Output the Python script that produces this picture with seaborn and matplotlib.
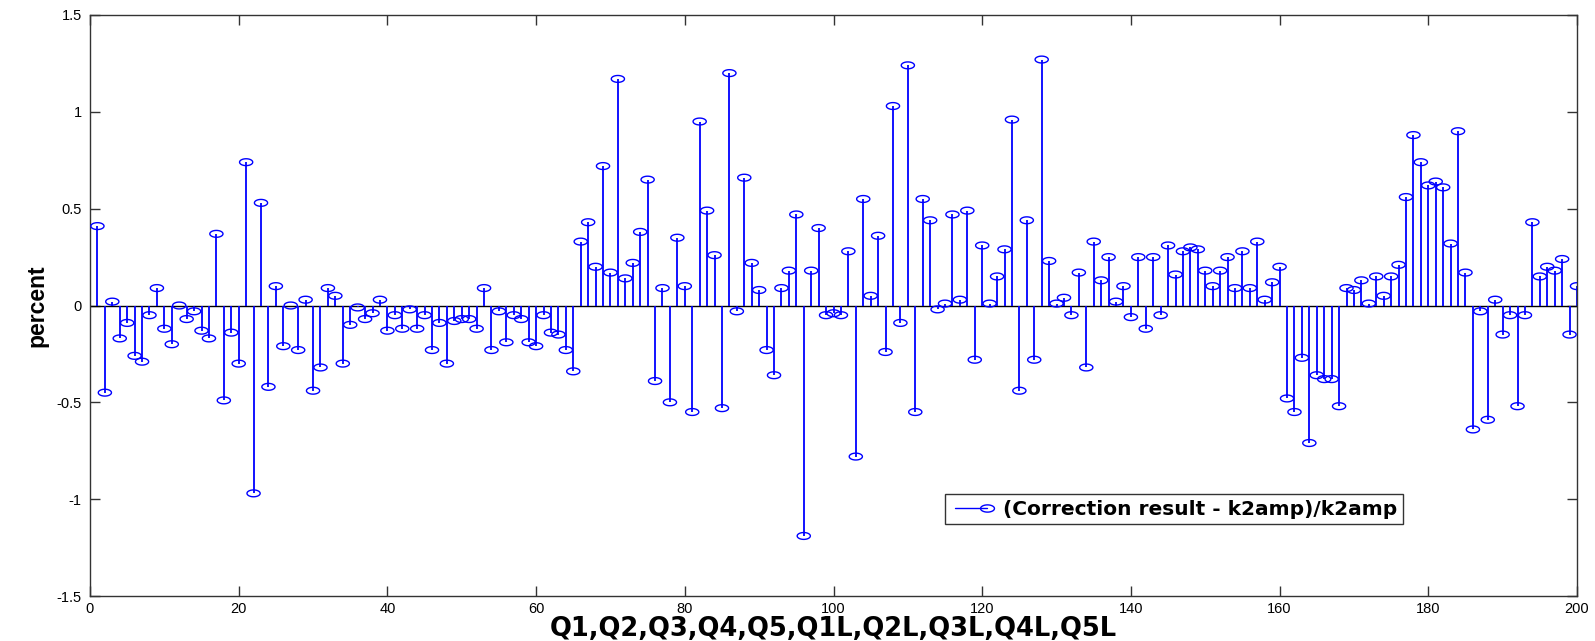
import numpy as np
import pandas as pd
import seaborn as sns
import matplotlib
matplotlib.use("Agg")
import matplotlib.pyplot as plt
from matplotlib.path import Path
from matplotlib.lines import Line2D
from matplotlib.legend_handler import HandlerBase

# ---------------- data ----------------
values_1_50 = [0.41, -0.45, 0.02, -0.17, -0.09, -0.26, -0.29, -0.05, 0.09, -0.12,
               -0.20, 0.00, -0.07, -0.03, -0.13, -0.17, 0.37, -0.49, -0.14, -0.30,
               0.74, -0.97, 0.53, -0.42, 0.10, -0.21, 0.00, -0.23, 0.03, -0.44,
               -0.32, 0.09, 0.05, -0.30, -0.10, -0.01, -0.07, -0.04, 0.03, -0.13,
               -0.05, -0.12, -0.02, -0.12, -0.05, -0.23, -0.09, -0.30, -0.08, -0.07]
values_51_100 = [-0.07, -0.12, 0.09, -0.23, -0.03, -0.19, -0.05, -0.07, -0.19, -0.21,
                 -0.05, -0.14, -0.15, -0.23, -0.34, 0.33, 0.43, 0.20, 0.72, 0.17,
                 1.17, 0.14, 0.22, 0.38, 0.65, -0.39, 0.09, -0.50, 0.35, 0.10,
                 -0.55, 0.95, 0.49, 0.26, -0.53, 1.20, -0.03, 0.66, 0.22, 0.08,
                 -0.23, -0.36, 0.09, 0.18, 0.47, -1.19, 0.18, 0.40, -0.05, -0.04]
values_101_150 = [-0.05, 0.28, -0.78, 0.55, 0.05, 0.36, -0.24, 1.03, -0.09, 1.24,
                  -0.55, 0.55, 0.44, -0.02, 0.01, 0.47, 0.03, 0.49, -0.28, 0.31,
                  0.01, 0.15, 0.29, 0.96, -0.44, 0.44, -0.28, 1.27, 0.23, 0.01,
                  0.04, -0.05, 0.17, -0.32, 0.33, 0.13, 0.25, 0.02, 0.10, -0.06,
                  0.25, -0.12, 0.25, -0.05, 0.31, 0.16, 0.28, 0.30, 0.29, 0.18]
values_151_200 = [0.10, 0.18, 0.25, 0.09, 0.28, 0.09, 0.33, 0.03, 0.12, 0.20,
                  -0.48, -0.55, -0.27, -0.71, -0.36, -0.38, -0.38, -0.52, 0.09, 0.08,
                  0.13, 0.01, 0.15, 0.05, 0.15, 0.21, 0.56, 0.88, 0.74, 0.62,
                  0.64, 0.61, 0.32, 0.90, 0.17, -0.64, -0.03, -0.59, 0.03, -0.15,
                  -0.05, -0.52, -0.05, 0.43, 0.15, 0.20, 0.18, 0.24, -0.15, 0.10]
values = values_1_50 + values_51_100 + values_101_150 + values_151_200
index = list(range(1, len(values) + 1))

x_ticks = [0, 20, 40, 60, 80, 100, 120, 140, 160, 180, 200]
y_ticks = [-1.5, -1, -0.5, 0, 0.5, 1, 1.5]
y_tick_labels = ["-1.5", "-1", "-0.5", "0", "0.5", "1", "1.5"]
x_label = "Q1,Q2,Q3,Q4,Q5,Q1L,Q2L,Q3L,Q4L,Q5L"
y_label = "percent"
legend_label = "(Correction result - k2amp)/k2amp"

df = pd.DataFrame({"index": index, "value": values})

# ---------------- style ----------------
sns.set_style("white")
plt.rcParams["font.family"] = ["Liberation Sans", "DejaVu Sans"]
plt.rcParams["text.color"] = "black"
plt.rcParams["axes.labelcolor"] = "black"
plt.rcParams["xtick.color"] = "#333333"
plt.rcParams["ytick.color"] = "#333333"

BLUE = "#0000ff"
theta = np.linspace(0, 2 * np.pi, 64)
ellipse = Path(np.column_stack([np.cos(theta), 0.52 * np.sin(theta)]), closed=True)

fig = plt.figure(figsize=(15.95, 6.41), dpi=100)
ax = fig.add_axes([90 / 1595, 1 - 596 / 641, (1577 - 90) / 1595, (596 - 15) / 641])

# baseline
ax.axhline(0, color="black", lw=1.0, zorder=1)
# stems
ax.vlines(df["index"], 0, df["value"], color=BLUE, lw=1.3, zorder=2)
# markers
sns.scatterplot(data=df, x="index", y="value", marker=ellipse, s=90,
                facecolor="none", edgecolor=BLUE, linewidth=1.0, ax=ax, zorder=3,
                legend=False)

ax.set_xlim(0, 200)
ax.set_ylim(-1.5, 1.5)
ax.set_xticks(x_ticks)
ax.set_xticklabels([str(t) for t in x_ticks])
ax.set_yticks(y_ticks)
ax.set_yticklabels(y_tick_labels)
ax.tick_params(direction="in", length=7, width=1.0, colors="#333333",
               labelcolor="black", labelsize=10.5, top=True, right=True,
               bottom=True, left=True)
ax.tick_params(axis="x", pad=4)
ax.tick_params(axis="y", pad=6)
for s in ax.spines.values():
    s.set_color("#333333")
    s.set_linewidth(1.0)

ax.set_xlabel(x_label, fontsize=18.5, fontweight="bold", color="black",
              family=["DejaVu Sans"], labelpad=0)
ax.set_ylabel(y_label, fontsize=16.5, fontweight="bold", color="black",
              labelpad=6)


class StemHandler(HandlerBase):
    def create_artists(self, legend, orig_handle, xdescent, ydescent, width,
                       height, fontsize, trans):
        y = height / 2 - ydescent
        x0 = -xdescent + 3
        x1 = -xdescent + width
        line = Line2D([x0, x1], [y, y], color=BLUE, lw=1.0)
        mk = Line2D([x1], [y], marker=ellipse, ms=10,
                    mfc="none", mec=BLUE, mew=1.0, lw=0)
        line.set_transform(trans)
        mk.set_transform(trans)
        return [line, mk]


handle = Line2D([], [], color=BLUE)
leg = ax.legend([handle], [legend_label], handler_map={Line2D: StemHandler()},
                loc="upper left", bbox_to_anchor=(945 / 1595, 1 - 494 / 641),
                bbox_transform=fig.transFigure, borderaxespad=0,
                fancybox=False, frameon=True, handlelength=1.8,
                handletextpad=0.8, borderpad=0.28,
                prop={"weight": "bold", "size": 14.5, "family": "DejaVu Sans"})
leg.get_frame().set_edgecolor("black")
leg.get_frame().set_linewidth(1.0)
for t in leg.get_texts():
    t.set_color("black")

fig.savefig("out.png", dpi=100)
